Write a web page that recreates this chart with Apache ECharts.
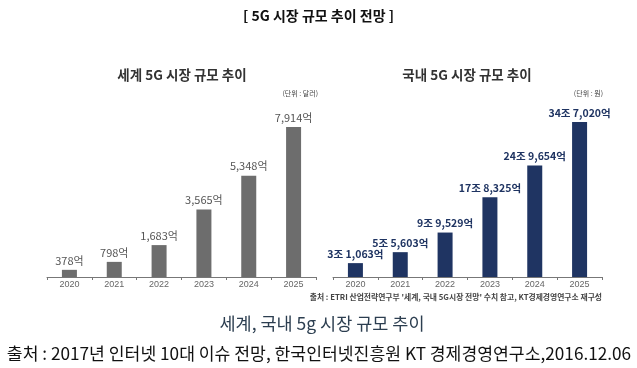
<!DOCTYPE html>
<html><head><meta charset="utf-8">
<script src="https://cdn.jsdelivr.net/npm/echarts@6/dist/echarts.min.js"></script>
<style>html,body{margin:0;padding:0;background:#fff}#c{width:637px;height:368px}</style>
</head><body><div id="c"></div>
<script>
const years = ['2020','2021','2022','2023','2024','2025'];
const worldValues = [378, 798, 1683, 3565, 5348, 7914];
const worldLabels = ['378억','798억','1,683억','3,565억','5,348억','7,914억'];
const koreaValues = [31063, 55603, 99529, 178325, 249654, 347020];
const koreaLabels = ['3조 1,063억','5조 5,603억','9조 9,529억','17조 8,325억','24조 9,654억','34조 7,020억'];

const FONT = '"Noto Sans CJK KR", "Noto Sans", sans-serif';
const chart = echarts.init(document.getElementById('c'), null, {renderer:'canvas'});

function xAx(gi){
  return {type:'category', gridIndex:gi, data:years,
    axisLine:{lineStyle:{color:'#777',width:1}},
    axisTick:{show:true, alignWithLabel:false, length:3, lineStyle:{color:'#777'}},
    axisLabel:{color:'#666', fontSize:9, fontFamily:'Arial, sans-serif', margin:3}};
}
function yAx(gi,max){
  return {type:'value', gridIndex:gi, min:0, max:max, show:false, splitLine:{show:false}};
}
chart.setOption({
  animation:false,
  grid:[
    {left:47, right:321, top:127, bottom:91},
    {left:333, right:35, top:122, bottom:91}
  ],
  xAxis:[xAx(0), xAx(1)],
  yAxis:[yAx(0,7914), yAx(1,347020)],
  series:[
    {type:'bar', xAxisIndex:0, yAxisIndex:0, data:worldValues, barWidth:15,
     itemStyle:{color:'#6d6d6d'},
     label:{show:true, position:'top', distance:4, color:'#555', fontSize:11, fontFamily:FONT,
       formatter:p=>worldLabels[p.dataIndex]}},
    {type:'bar', xAxisIndex:1, yAxisIndex:1, data:koreaValues, barWidth:15,
     itemStyle:{color:'#1f3462'},
     label:{show:true, position:'top', distance:4, color:'#1f3462', fontSize:10.5, fontWeight:'bold', fontFamily:FONT,
       formatter:p=>koreaLabels[p.dataIndex]}}
  ],
  graphic:[
    {type:'text', left:'center', top:9, style:{text:'[ 5G 시장 규모 추이 전망 ]', font:'bold 14px '+FONT, fill:'#111'}},
    {type:'text', x:182, y:75, style:{text:'세계 5G 시장 규모 추이', font:'bold 13.5px '+FONT, fill:'#333', align:'center', verticalAlign:'middle'}},
    {type:'text', x:467, y:75, style:{text:'국내 5G 시장 규모 추이', font:'bold 13.5px '+FONT, fill:'#333', align:'center', verticalAlign:'middle'}},
    {type:'text', x:318, y:93, style:{text:'(단위 : 달러)', font:'7px '+FONT, fill:'#444', align:'right', verticalAlign:'middle'}},
    {type:'text', x:603, y:93, style:{text:'(단위 : 원)', font:'7px '+FONT, fill:'#444', align:'right', verticalAlign:'middle'}},
    {type:'text', x:602, y:297, style:{text:"출처 : ETRI 산업전략연구부 '세계, 국내 5G시장 전망' 수치 참고, KT경제경영연구소 재구성", font:'bold 7.8px '+FONT, fill:'#444', align:'right', verticalAlign:'middle'}},
    {type:'text', x:322, y:323, style:{text:'세계, 국내 5g 시장 규모 추이', font:'17.5px '+FONT, fill:'#2c3e50', align:'center', verticalAlign:'middle'}},
    {type:'text', x:319, y:353, style:{text:'출처 : 2017년 인터넷 10대 이슈 전망, 한국인터넷진흥원 KT 경제경영연구소,2016.12.06', font:'17.2px '+FONT, fill:'#111', align:'center', verticalAlign:'middle'}}
  ]
});
</script></body></html>
